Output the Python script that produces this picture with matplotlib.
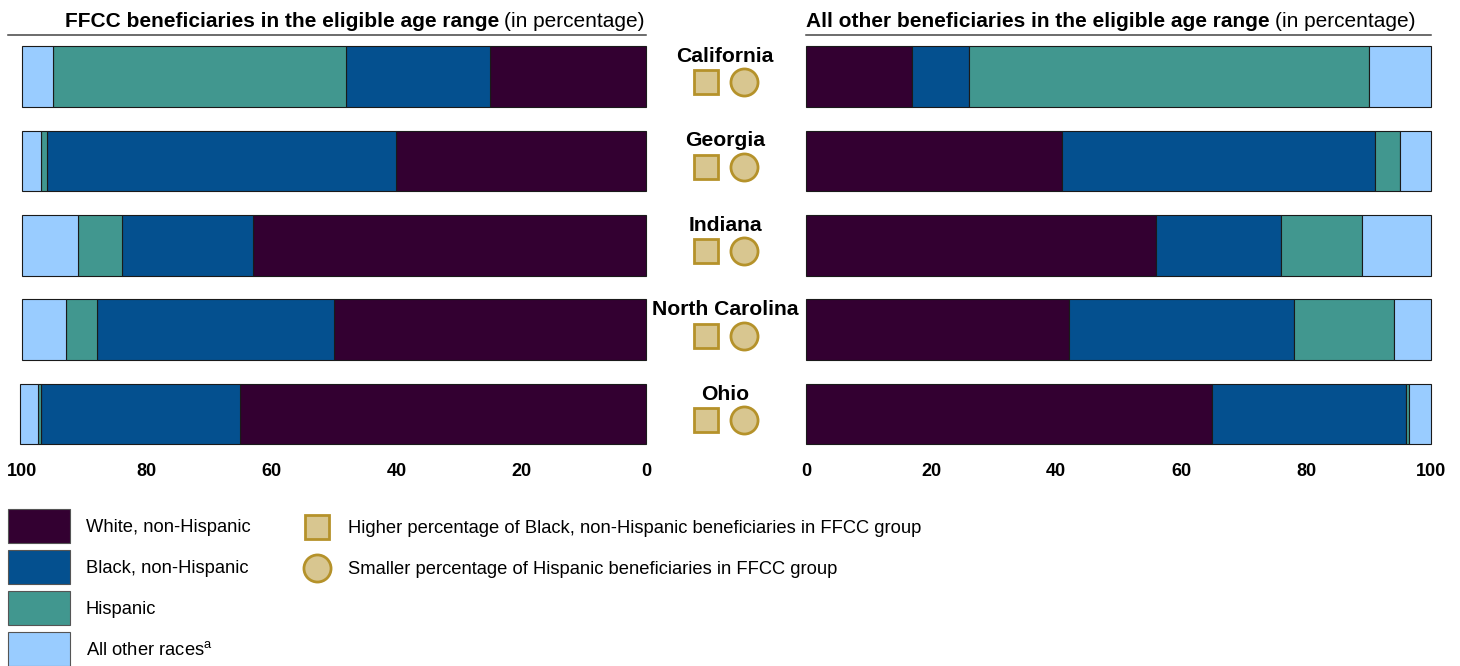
import matplotlib
matplotlib.use("Agg")
import matplotlib.pyplot as plt
from matplotlib.patches import Patch
from matplotlib.lines import Line2D

plt.rcParams['font.family'] = ['Liberation Sans', 'DejaVu Sans']

# data (percent)
states = ['California', 'Georgia', 'Indiana', 'North Carolina', 'Ohio']
groups = ['White, non-Hispanic', 'Black, non-Hispanic', 'Hispanic',
          'All other races$^{\\mathregular{a}}$']
colors = ['#330031', '#04508F', '#41978F', '#99CCFF']

ffcc_white = [25, 40, 63, 50, 65]
ffcc_black = [23, 56, 21, 38, 32]
ffcc_hisp = [47, 1, 7, 5, 0.4]
ffcc_other = [5, 3, 9, 7, 3]

rest_white = [17, 41, 56, 42, 65]
rest_black = [9, 50, 20, 36, 31]
rest_hisp = [64, 4, 13, 16, 0.5]
rest_other = [10, 5, 11, 6, 3.5]

# markers shown next to each state
black_higher = [True, True, True, True, True]
hisp_smaller = [True, True, True, True, True]

ticks = [0, 20, 40, 60, 80, 100]
mk_face = '#D8C690'
mk_edge = '#B5922A'

W, H = 1460, 666
fig = plt.figure(figsize=(W / 100, H / 100), dpi=100)

top, bot = 34.3, 456.3
yb = 1 - bot / H
hh = (bot - top) / H
axL = fig.add_axes([22 / W, yb, 624 / W, hh])
axR = fig.add_axes([806 / W, yb, 625 / W, hh])
axM = fig.add_axes([646 / W, yb, 160 / W, hh])

ypos = list(range(len(states)))


def stacked(ax, series):
    left = [0] * len(states)
    for vals, c in zip(series, colors):
        ax.barh(ypos, vals, left=left, height=0.72, color=c,
                edgecolor='#1a1a1a', linewidth=0.8, clip_on=False)
        left = [a + b for a, b in zip(left, vals)]


stacked(axL, [ffcc_white, ffcc_black, ffcc_hisp, ffcc_other])
stacked(axR, [rest_white, rest_black, rest_hisp, rest_other])

axL.set_xlim(100, 0)
axR.set_xlim(0, 100)
for ax in (axL, axR):
    ax.set_ylim(4.5, -0.5)
    ax.set_xticks(ticks)
    ax.set_xticklabels([str(t) for t in ticks], fontsize=13, fontweight='bold')
    ax.tick_params(axis='x', length=0, pad=5)
    ax.set_yticks([])
    for s in ax.spines.values():
        s.set_visible(False)

# middle column: state names and markers
axM.set_xlim(646, 806)
axM.set_ylim(4.5, -0.5)
axM.axis('off')
for i, st in enumerate(states):
    axM.text(725, i - 0.172, st, ha='center', va='baseline',
             fontsize=15.2, fontweight='bold')
    if black_higher[i]:
        axM.plot(706, i + 0.07, marker='s', ms=17.3, mfc=mk_face,
                 mec=mk_edge, mew=2, ls='none')
    if hisp_smaller[i]:
        axM.plot(744, i + 0.07, marker='o', ms=19.5, mfc=mk_face,
                 mec=mk_edge, mew=2, ls='none')

# titles with bold + regular parts
fig.canvas.draw()
r = fig.canvas.get_renderer()
ty = 1 - 27 / H
t1 = fig.text(645 / W, ty, '(in percentage)', ha='right', va='baseline', fontsize=15)
w1 = t1.get_window_extent(r).width
fig.text((645 - w1 - 5) / W, ty, 'FFCC beneficiaries in the eligible age range',
         ha='right', va='baseline', fontsize=15, fontweight='bold')
t2 = fig.text(806 / W, ty, 'All other beneficiaries in the eligible age range',
              ha='left', va='baseline', fontsize=15, fontweight='bold')
w2 = t2.get_window_extent(r).width
fig.text((806 + w2 + 5) / W, ty, '(in percentage)', ha='left', va='baseline', fontsize=15)

ly = 1 - 35 / H
fig.add_artist(Line2D([8 / W, 646 / W], [ly, ly], color='#444444', lw=1.1))
fig.add_artist(Line2D([806 / W, 1431 / W], [ly, ly], color='#444444', lw=1.1))

# legends
lfs = 13.2
h1 = [Patch(facecolor=c, edgecolor='#555555', linewidth=0.8) for c in colors]
fig.legend(h1, groups, loc='upper left', bbox_to_anchor=(8 / W, 1 - 509 / H),
           frameon=False, fontsize=lfs, handlelength=3.38, handleheight=2.477,
           labelspacing=0.38, handletextpad=0.87, borderpad=0, borderaxespad=0)
h2 = [Line2D([], [], marker='s', ms=17.3, mfc=mk_face, mec=mk_edge, mew=2, ls='none'),
      Line2D([], [], marker='o', ms=19.5, mfc=mk_face, mec=mk_edge, mew=2, ls='none')]
l2 = ['Higher percentage of Black, non-Hispanic beneficiaries in FFCC group',
      'Smaller percentage of Hispanic beneficiaries in FFCC group']
fig.legend(h2, l2, loc='upper left', bbox_to_anchor=(302 / W, 1 - 520 / H),
           frameon=False, fontsize=lfs, handlelength=1.64, handleheight=0.7,
           labelspacing=1.31, handletextpad=0.87, borderpad=0, borderaxespad=0)

fig.savefig('out.png', dpi=100)
